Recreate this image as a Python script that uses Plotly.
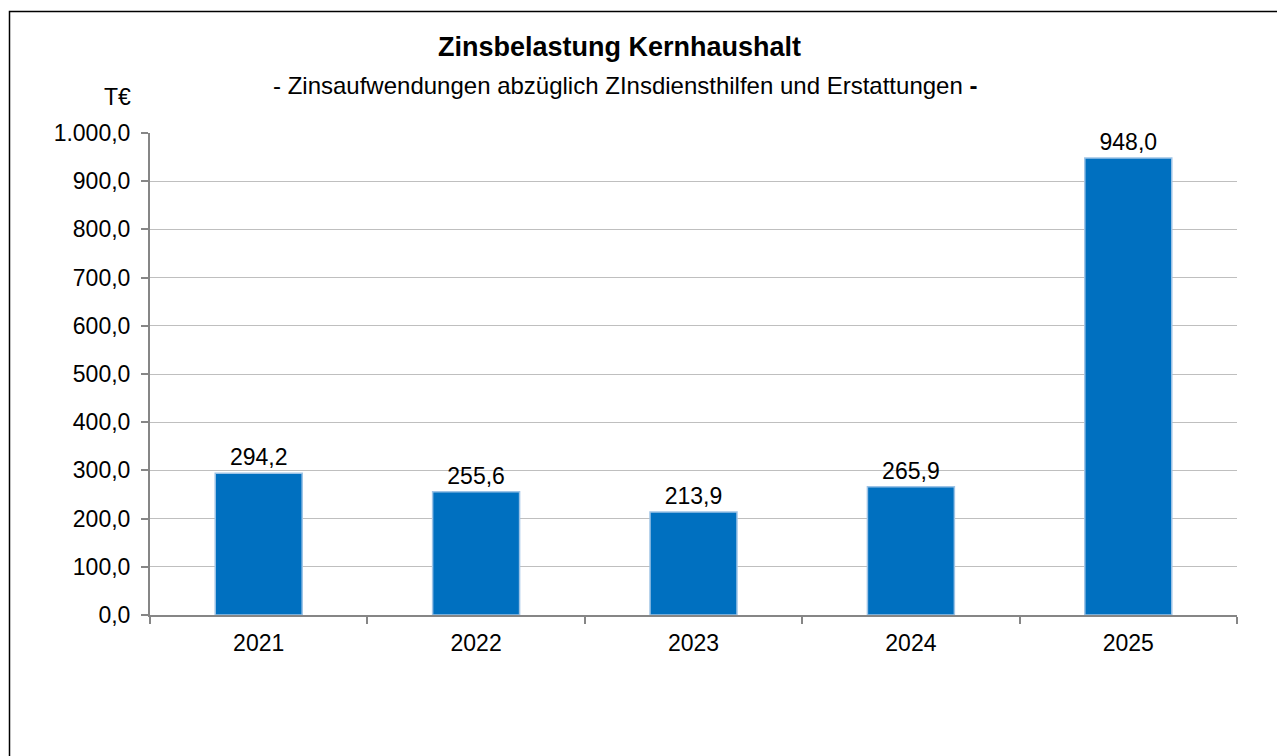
import plotly.graph_objects as go

years = ["2021", "2022", "2023", "2024", "2025"]
values = [294.2, 255.6, 213.9, 265.9, 948.0]
label_texts = ["294,2", "255,6", "213,9", "265,9", "948,0"]
y_ticks = [0, 100, 200, 300, 400, 500, 600, 700, 800, 900, 1000]

FONT = "Liberation Sans, Arial, sans-serif"
FS = 23

# reference plot area in page pixels: x 150..1237, y 133..615
def px(x):
    return (x - 150) / 1087

def py(y):
    return (615 - y) / 482

fig = go.Figure()
fig.add_trace(go.Bar(
    x=years, y=values,
    marker=dict(color="#0070C0", line=dict(color="#9DC3E6", width=1.5)),
    text=label_texts, textposition="outside", cliponaxis=False,
    textfont=dict(family=FONT, size=FS, color="#000000"),
    hoverinfo="x+y",
))

fig.update_layout(
    width=1277, height=748,
    margin=dict(l=142, r=48, t=125, b=141),
    paper_bgcolor="white", plot_bgcolor="white",
    separators=",.",
    showlegend=False,
    font=dict(family=FONT, size=FS, color="#000000"),
    bargap=0.6,
    uniformtext=dict(minsize=FS, mode="show"),
)
fig.update_yaxes(
    range=[0, 1000], tickvals=y_ticks, tickformat=",.1f",
    showgrid=True, gridcolor="#BFBFBF", gridwidth=1,
    showline=True, linecolor="#868686", linewidth=2,
    ticks="outside", ticklen=7, tickcolor="#868686", tickwidth=2,
    ticklabelstandoff=6,
    zeroline=False, tickfont=dict(family=FONT, size=FS),
)
fig.update_xaxes(
    type="category",
    showline=True, linecolor="#868686", linewidth=2,
    ticks="outside", tickson="boundaries", ticklen=7, tickcolor="#868686", tickwidth=2,
    ticklabelstandoff=6,
    tickfont=dict(family=FONT, size=FS), showgrid=False,
)

fig.add_annotation(xref="paper", yref="paper", x=px(619), y=py(47),
                   xanchor="center", yanchor="middle",
                   text="<b>Zinsbelastung Kernhaushalt</b>", showarrow=False,
                   font=dict(family=FONT, size=27, color="#000000"))
fig.add_annotation(xref="paper", yref="paper", x=px(625), y=py(86),
                   xanchor="center", yanchor="middle",
                   text="- Zinsaufwendungen abzüglich ZInsdiensthilfen und Erstattungen <b>-</b>",
                   showarrow=False, font=dict(family=FONT, size=24, color="#000000"))
fig.add_annotation(xref="paper", yref="paper", x=px(117), y=py(97),
                   xanchor="center", yanchor="middle",
                   text="T€", showarrow=False, font=dict(family=FONT, size=FS, color="#000000"))

fig.add_shape(type="rect", xref="paper", yref="paper",
              x0=px(9.5), x1=1.2, y0=-0.6, y1=py(11.5),
              line=dict(color="#000000", width=1.5), fillcolor="rgba(0,0,0,0)", layer="above")

fig.write_html("out.html")
